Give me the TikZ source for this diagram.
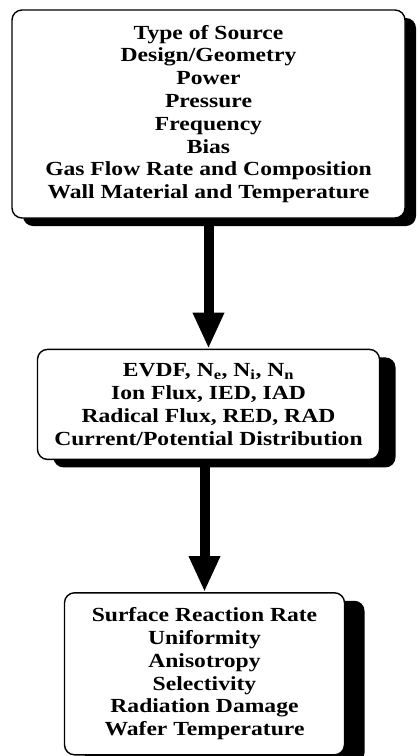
\documentclass[tikz,border=0pt]{standalone}
\usepackage{fontspec}
\setmainfont{Liberation Serif}[FakeStretch=1.18]
\usetikzlibrary{positioning, arrows.meta, shadows}

\begin{document}
\begin{tikzpicture}[
      x=1pt, y=-1pt,
      node distance=130pt,
      box/.style={
        draw,
        line width=1.4pt,
        rounded corners=10pt,
        fill=white,
        align=center,
        font=\fontsize{20}{22.8}\selectfont\bfseries
      },
      shade/.style={
        drop shadow={shadow xshift=#1, shadow yshift=-8pt, fill=black, opacity=1}
      },
      arrow/.style={
        -{Triangle[width=29pt, length=36pt]},
        line width=10pt
      }
    ]
    \useasboundingbox (0,0) rectangle (420,756);

    \node[box, shade=11pt, minimum width=393pt, minimum height=208pt] (source) at (208.5,114) {
      Type of Source\\
      Design/Geometry\\
      Power\\
      Pressure\\
      Frequency\\
      Bias\\
      Gas Flow Rate and Composition\\
      Wall Material and Temperature
    };

    \node[box, shade=16pt, minimum width=342pt, minimum height=110pt, below=of source] (plasma) {
      EVDF, N\textsubscript{e}, N\textsubscript{i}, N\textsubscript{n}\\
      Ion Flux, IED, IAD\\
      Radical Flux, RED, RAD\\
      Current/Potential Distribution
    };

    \node[box, shade=20pt, minimum width=280pt, minimum height=162pt, below=132pt of plasma, xshift=-4pt] (surface) {
      Surface Reaction Rate\\
      Uniformity\\
      Anisotropy\\
      Selectivity\\
      Radiation Damage\\
      Wafer Temperature
    };

    \draw[arrow] (source.south) -- (plasma.north);
    \draw[arrow] (plasma.south -| surface.north) -- (surface.north);

    \end{tikzpicture}
\end{document}
